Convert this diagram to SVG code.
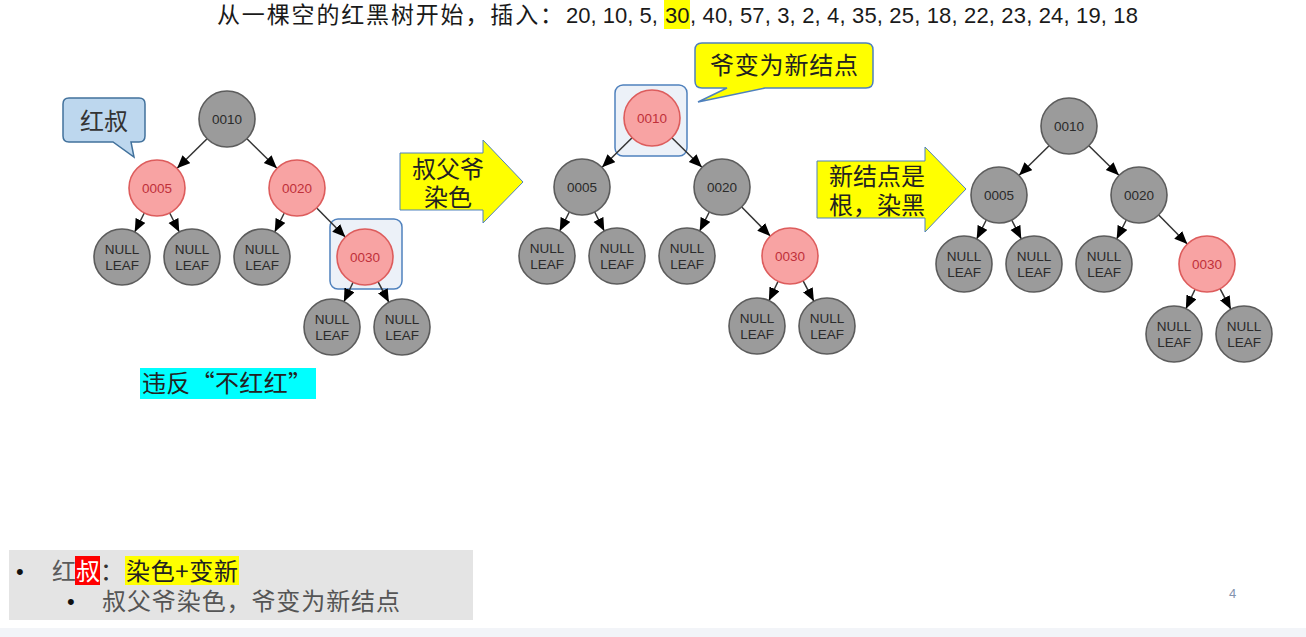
<svg xmlns="http://www.w3.org/2000/svg" width="1306" height="637" viewBox="0 0 1306 637">
<style>
.cjk{font-family:"Noto Sans CJK SC","Liberation Serif",serif;}
.num{font-family:"Liberation Sans",Arial,sans-serif;}
.gn circle{fill:#9b9b9b;stroke:#5c5c5c;stroke-width:1.6;}
.rn circle{fill:#f8a3a3;stroke:#dd5c5c;stroke-width:1.6;}
.nt{font-family:"Liberation Sans",Arial,sans-serif;font-size:13.5px;text-anchor:middle;}
.gn text{fill:#2a2a2a;}
.rn text{fill:#c0303a;}
.edge{stroke:#333;stroke-width:1.5;fill:none;marker-end:url(#ah);}
.hl{fill:#dce6f2;fill-opacity:0.55;stroke:#4f81bd;stroke-width:1.5;}
</style>
<defs>
<marker id="ah" markerUnits="userSpaceOnUse" markerWidth="14" markerHeight="12" refX="13" refY="5.5" orient="auto">
<path d="M0,0 L13,5.5 L0,11 Z" fill="#000"/>
</marker>
</defs>
<rect x="0" y="0" width="1306" height="637" fill="#ffffff"/>
<rect x="0" y="628" width="1306" height="9" fill="#f2f4f8"/>

<!-- title -->
<g id="title">
<rect x="664" y="0" width="26" height="29" fill="#ffff00"/>
<text class="cjk" x="217" y="23" font-size="23" fill="#1a1a1a" textLength="346" lengthAdjust="spacing">从一棵空的红黑树开始，插入：</text>
<text class="num" x="566" y="23" font-size="22" fill="#1a1a1a">20, 10, 5,</text>
<text class="num" x="665" y="23" font-size="22" fill="#1a1a1a">30</text>
<text class="num" x="690" y="23" font-size="22" fill="#1a1a1a" textLength="448" lengthAdjust="spacing">, 40, 57, 3, 2, 4, 35, 25, 18, 22, 23, 24, 19, 18</text>
</g>

<!-- highlight boxes -->
<rect class="hl" x="330" y="219" width="72" height="70" rx="8"/>
<rect class="hl" x="615" y="85" width="72" height="71" rx="8"/>

<!-- connectors -->
<g id="connectors">
<g id="conn-t1">
<line class="edge" x1="207.1" y1="138.7" x2="177.1" y2="168.3"/>
<line class="edge" x1="246.9" y1="138.7" x2="276.9" y2="168.3"/>
<line class="edge" x1="144.3" y1="213" x2="134.7" y2="232"/>
<line class="edge" x1="169.7" y1="213" x2="179.3" y2="232"/>
<line class="edge" x1="284.3" y1="213" x2="274.7" y2="232"/>
<line class="edge" x1="316.7" y1="207.9" x2="345.3" y2="237.1"/>
<line class="edge" x1="353.1" y1="282.3" x2="343.9" y2="301.7"/>
<line class="edge" x1="378.1" y1="281.8" x2="388.9" y2="302.3"/>
</g>
<g id="conn-t2" transform="translate(425,-1)">
<line class="edge" x1="207.1" y1="138.7" x2="177.1" y2="168.3"/>
<line class="edge" x1="246.9" y1="138.7" x2="276.9" y2="168.3"/>
<line class="edge" x1="144.3" y1="213" x2="134.7" y2="232"/>
<line class="edge" x1="169.7" y1="213" x2="179.3" y2="232"/>
<line class="edge" x1="284.3" y1="213" x2="274.7" y2="232"/>
<line class="edge" x1="316.7" y1="207.9" x2="345.3" y2="237.1"/>
<line class="edge" x1="353.1" y1="282.3" x2="343.9" y2="301.7"/>
<line class="edge" x1="378.1" y1="281.8" x2="388.9" y2="302.3"/>
</g>
<g id="conn-t3" transform="translate(842,7)">
<line class="edge" x1="207.1" y1="138.7" x2="177.1" y2="168.3"/>
<line class="edge" x1="246.9" y1="138.7" x2="276.9" y2="168.3"/>
<line class="edge" x1="144.3" y1="213" x2="134.7" y2="232"/>
<line class="edge" x1="169.7" y1="213" x2="179.3" y2="232"/>
<line class="edge" x1="284.3" y1="213" x2="274.7" y2="232"/>
<line class="edge" x1="316.7" y1="207.9" x2="345.3" y2="237.1"/>
<line class="edge" x1="353.1" y1="282.3" x2="343.9" y2="301.7"/>
<line class="edge" x1="378.1" y1="281.8" x2="388.9" y2="302.3"/>
</g>
</g>

<!-- tree 1 -->
<g id="t1-0010" class="gn" transform="translate(227,119)"><circle r="28"/><text class="nt" y="5">0010</text></g>
<g id="t1-0005" class="rn" transform="translate(157,188)"><circle r="28"/><text class="nt" y="5">0005</text></g>
<g id="t1-0020" class="rn" transform="translate(297,188)"><circle r="28"/><text class="nt" y="5">0020</text></g>
<g id="t1-0030" class="rn" transform="translate(365,257)"><circle r="28"/><text class="nt" y="5">0030</text></g>
<g id="t1-leaf1" class="gn" transform="translate(122,257)"><circle r="28"/><text class="nt" y="-3">NULL</text><text class="nt" y="13">LEAF</text></g>
<g id="t1-leaf2" class="gn" transform="translate(192,257)"><circle r="28"/><text class="nt" y="-3">NULL</text><text class="nt" y="13">LEAF</text></g>
<g id="t1-leaf3" class="gn" transform="translate(262,257)"><circle r="28"/><text class="nt" y="-3">NULL</text><text class="nt" y="13">LEAF</text></g>
<g id="t1-leaf4" class="gn" transform="translate(332,327)"><circle r="28"/><text class="nt" y="-3">NULL</text><text class="nt" y="13">LEAF</text></g>
<g id="t1-leaf5" class="gn" transform="translate(402,327)"><circle r="28"/><text class="nt" y="-3">NULL</text><text class="nt" y="13">LEAF</text></g>

<!-- tree 2 -->
<g id="t2-0010" class="rn" transform="translate(652,118)"><circle r="28"/><text class="nt" y="5">0010</text></g>
<g id="t2-0005" class="gn" transform="translate(582,187)"><circle r="28"/><text class="nt" y="5">0005</text></g>
<g id="t2-0020" class="gn" transform="translate(722,187)"><circle r="28"/><text class="nt" y="5">0020</text></g>
<g id="t2-0030" class="rn" transform="translate(790,256)"><circle r="28"/><text class="nt" y="5">0030</text></g>
<g id="t2-leaf1" class="gn" transform="translate(547,256)"><circle r="28"/><text class="nt" y="-3">NULL</text><text class="nt" y="13">LEAF</text></g>
<g id="t2-leaf2" class="gn" transform="translate(617,256)"><circle r="28"/><text class="nt" y="-3">NULL</text><text class="nt" y="13">LEAF</text></g>
<g id="t2-leaf3" class="gn" transform="translate(687,256)"><circle r="28"/><text class="nt" y="-3">NULL</text><text class="nt" y="13">LEAF</text></g>
<g id="t2-leaf4" class="gn" transform="translate(757,326)"><circle r="28"/><text class="nt" y="-3">NULL</text><text class="nt" y="13">LEAF</text></g>
<g id="t2-leaf5" class="gn" transform="translate(827,326)"><circle r="28"/><text class="nt" y="-3">NULL</text><text class="nt" y="13">LEAF</text></g>

<!-- tree 3 -->
<g id="t3-0010" class="gn" transform="translate(1069,126)"><circle r="28"/><text class="nt" y="5">0010</text></g>
<g id="t3-0005" class="gn" transform="translate(999,195)"><circle r="28"/><text class="nt" y="5">0005</text></g>
<g id="t3-0020" class="gn" transform="translate(1139,195)"><circle r="28"/><text class="nt" y="5">0020</text></g>
<g id="t3-0030" class="rn" transform="translate(1207,264)"><circle r="28"/><text class="nt" y="5">0030</text></g>
<g id="t3-leaf1" class="gn" transform="translate(964,264)"><circle r="28"/><text class="nt" y="-3">NULL</text><text class="nt" y="13">LEAF</text></g>
<g id="t3-leaf2" class="gn" transform="translate(1034,264)"><circle r="28"/><text class="nt" y="-3">NULL</text><text class="nt" y="13">LEAF</text></g>
<g id="t3-leaf3" class="gn" transform="translate(1104,264)"><circle r="28"/><text class="nt" y="-3">NULL</text><text class="nt" y="13">LEAF</text></g>
<g id="t3-leaf4" class="gn" transform="translate(1174,334)"><circle r="28"/><text class="nt" y="-3">NULL</text><text class="nt" y="13">LEAF</text></g>
<g id="t3-leaf5" class="gn" transform="translate(1244,334)"><circle r="28"/><text class="nt" y="-3">NULL</text><text class="nt" y="13">LEAF</text></g>

<!-- callouts -->
<g id="callout-red-uncle">
<path d="M69,98 H139 Q145,98 145,104 V136 Q145,142 139,142 H131 L134,157 L113,142 H69 Q63,142 63,136 V104 Q63,98 69,98 Z" fill="#bdd7ee" stroke="#41719c" stroke-width="1.5"/>
<text class="cjk" x="104" y="130" font-size="24" fill="#333" text-anchor="middle">红叔</text>
</g>
<g id="callout-grandpa">
<path d="M702,43 H866 Q873,43 873,50 V81 Q873,88 866,88 H765 L698,102 L727,88 H702 Q695,88 695,81 V50 Q695,43 702,43 Z" fill="#ffff00" stroke="#4f81bd" stroke-width="1.5"/>
<text class="cjk" x="784" y="74" font-size="24" fill="#222" text-anchor="middle" textLength="148" lengthAdjust="spacing">爷变为新结点</text>
</g>

<!-- big arrows -->
<g id="arrow-recolor">
<polygon points="400,153 483,153 483,140 523,182 483,223 483,210 400,210" fill="#ffff00" stroke="#4f81bd" stroke-width="1"/>
<text class="cjk" x="448" y="178" font-size="24" fill="#222" text-anchor="middle">叔父爷</text>
<text class="cjk" x="448" y="206" font-size="24" fill="#222" text-anchor="middle">染色</text>
</g>
<g id="arrow-root">
<polygon points="817,161 925,161 925,147 966,189 925,232 925,218 817,218" fill="#ffff00" stroke="#4f81bd" stroke-width="1"/>
<text class="cjk" x="829" y="185" font-size="24" fill="#222">新结点是</text>
<text class="cjk" x="829" y="214" font-size="24" fill="#222">根，染黑</text>
</g>

<!-- violation label -->
<g id="violation">
<rect x="140" y="368" width="176" height="31" fill="#00ffff"/>
<text class="cjk" x="142" y="392" font-size="24" fill="#222" textLength="170" lengthAdjust="spacing">违反“不红红”</text>
</g>

<!-- bottom summary -->
<g id="summary">
<rect x="9" y="550" width="464" height="70" fill="#e4e4e4"/>
<text class="num" x="16" y="579" font-size="22" fill="#111">•</text>
<text class="cjk" x="52" y="580" font-size="24" fill="#5a5a5a">红</text>
<rect x="75" y="556" width="25" height="29" fill="#ff0000"/>
<text class="cjk" x="76" y="580" font-size="24" fill="#ffffff">叔</text>
<text class="cjk" x="100" y="580" font-size="24" fill="#333">：</text>
<rect x="125" y="556" width="114" height="29" fill="#ffff00"/>
<text class="cjk" x="126" y="580" font-size="24" fill="#222" textLength="112" lengthAdjust="spacing">染色+变新</text>
<text class="num" x="67" y="609" font-size="22" fill="#111">•</text>
<text class="cjk" x="102" y="610" font-size="24" fill="#555" textLength="298" lengthAdjust="spacing">叔父爷染色，爷变为新结点</text>
</g>

<text class="num" x="1229" y="598" font-size="13" fill="#8393ad">4</text>
</svg>
